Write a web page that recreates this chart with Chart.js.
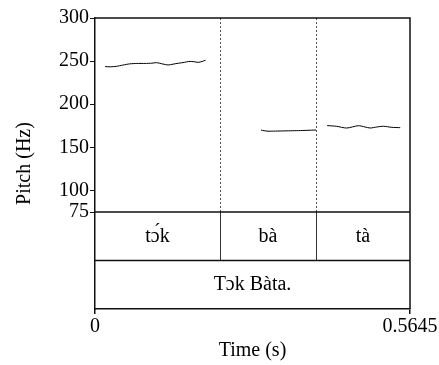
<!DOCTYPE html>
<html>
<head>
<meta charset="utf-8">
<script src="https://cdn.jsdelivr.net/npm/chart.js@4/dist/chart.umd.min.js"></script>
<style>
  html, body { margin: 0; padding: 0; background: #fff; }
  canvas { display: block; }
</style>
</head>
<body>
<canvas id="pitchChart" width="439" height="365"></canvas>
<script>
// Pitch track over a two-tier TextGrid (syllables / sentence)
const SERIF = '"Liberation Serif", "DejaVu Serif", serif';

const timeTicks = [0, 0.5645];
const hzTicks = [75, 100, 150, 200, 250, 300];

// pitch contour per syllable (time in s, F0 in Hz)
const tokTime = [0.018, 0.028, 0.038, 0.050, 0.062, 0.075, 0.090, 0.102, 0.110, 0.122, 0.131, 0.140, 0.150, 0.160, 0.168, 0.177, 0.185, 0.192, 0.198];
const tokHz   = [243.6, 243.4, 243.9, 245.4, 246.8, 247.3, 247.3, 247.6, 248.2, 246.6, 245.5, 246.5, 247.6, 248.5, 249.6, 249.4, 248.5, 249.6, 251.0];
const baTime  = [0.2975, 0.303, 0.310, 0.320, 0.335, 0.350, 0.365, 0.380, 0.396];
const baHz    = [170.0, 169.3, 168.7, 168.8, 169.0, 169.2, 169.4, 169.7, 170.1];
const taTime  = [0.416, 0.433, 0.451, 0.472, 0.484, 0.493, 0.505, 0.517, 0.532, 0.547];
const taHz    = [175.2, 174.4, 172.4, 175.1, 173.6, 172.4, 173.6, 174.4, 173.2, 172.8];

// TextGrid tiers
const syllableBounds = [0, 0.224, 0.396, 0.5645];
const syllableLabels = ['t\u0254\u0301k', 'ba\u0300', 'ta\u0300'];
const sentenceBounds = [0, 0.5645];
const sentenceLabels = ['T\u0254k Ba\u0300ta.'];

// the tiers sit under the 75 Hz floor, half the pitch panel tall in total
const FLOOR_HZ = 75;
const TIER_SPLIT = 18.75;
const TIER_BOTTOM = -37.5;

const toPoints = (ts, hs) => ts.map((t, i) => ({ x: t, y: hs[i] }));

const textGridPlugin = {
  id: 'textGrid',
  afterDraw(chart) {
    const { ctx, chartArea: a, scales: { x, y } } = chart;
    const yFloor = y.getPixelForValue(FLOOR_HZ);
    const ySplit = y.getPixelForValue(TIER_SPLIT);
    const yBottom = y.getPixelForValue(TIER_BOTTOM);
    ctx.save();

    // interval boundaries: dotted across the pitch panel, solid in the tier
    ctx.lineWidth = 1;
    syllableBounds.slice(1, -1).forEach(b => {
      const px = Math.round(x.getPixelForValue(b)) + 0.5;
      ctx.strokeStyle = '#555';
      ctx.setLineDash([2, 2]);
      ctx.beginPath(); ctx.moveTo(px, a.top); ctx.lineTo(px, yFloor); ctx.stroke();
      ctx.setLineDash([]);
      ctx.strokeStyle = '#333';
      ctx.beginPath(); ctx.moveTo(px, yFloor); ctx.lineTo(px, ySplit); ctx.stroke();
    });

    // outer frame and tier separators
    ctx.strokeStyle = '#111';
    ctx.lineWidth = 1.5;
    ctx.beginPath();
    ctx.moveTo(a.left, a.top); ctx.lineTo(a.right, a.top); ctx.lineTo(a.right, a.bottom);
    ctx.moveTo(a.left, yFloor); ctx.lineTo(a.right, yFloor);
    ctx.moveTo(a.left, ySplit); ctx.lineTo(a.right, ySplit);
    ctx.stroke();

    // interval labels
    ctx.fillStyle = '#000';
    ctx.font = '20px ' + SERIF;
    ctx.textAlign = 'center';
    ctx.textBaseline = 'middle';
    const drawTier = (bounds, labels, yTop, yBot) => {
      labels.forEach((lab, i) => {
        const cx = (x.getPixelForValue(bounds[i]) + x.getPixelForValue(bounds[i + 1])) / 2;
        ctx.fillText(lab, cx, (yTop + yBot) / 2);
      });
    };
    drawTier(syllableBounds, syllableLabels, yFloor, ySplit);
    drawTier(sentenceBounds, sentenceLabels, ySplit, yBottom);
    ctx.restore();
  }
};

const lineStyle = { borderColor: '#000', borderWidth: 1, pointRadius: 0, tension: 0.25, fill: false };

new Chart(document.getElementById('pitchChart'), {
  type: 'line',
  data: {
    datasets: [
      { ...lineStyle, data: toPoints(tokTime, tokHz) },
      { ...lineStyle, data: toPoints(baTime, baHz) },
      { ...lineStyle, data: toPoints(taTime, taHz) }
    ]
  },
  options: {
    responsive: false,
    devicePixelRatio: 1,
    animation: false,
    layout: { padding: { top: 18, right: 29, bottom: 0, left: 0 } },
    plugins: { legend: { display: false }, tooltip: { enabled: false } },
    scales: {
      x: {
        type: 'linear',
        min: 0,
        max: 0.5645,
        afterBuildTicks: s => { s.ticks = timeTicks.map(v => ({ value: v })); },
        ticks: {
          autoSkip: false,
          maxRotation: 0,
          padding: 0.5,
          color: '#000',
          font: { family: SERIF, size: 20 },
          callback: v => String(v)
        },
        grid: { drawOnChartArea: false, tickLength: 5, color: '#111', lineWidth: 1.5 },
        border: { display: true, color: '#111', width: 1.5 },
        title: {
          display: true,
          text: 'Time (s)',
          color: '#000',
          font: { family: SERIF, size: 20 },
          padding: { top: 0, bottom: 2 }
        }
      },
      y: {
        type: 'linear',
        min: TIER_BOTTOM,
        max: 300,
        afterBuildTicks: s => { s.ticks = hzTicks.map(v => ({ value: v })); },
        ticks: {
          autoSkip: false,
          padding: 1,
          color: '#000',
          font: { family: SERIF, size: 20 },
          callback: v => String(v)
        },
        grid: { drawOnChartArea: false, tickLength: 5, color: '#111', lineWidth: 1 },
        border: { display: true, color: '#111', width: 1.5 },
        title: {
          display: true,
          text: 'Pitch (Hz)',
          color: '#000',
          font: { family: SERIF, size: 20 },
          padding: { top: 13, bottom: 21 }
        }
      }
    }
  },
  plugins: [textGridPlugin]
});
</script>
</body>
</html>
